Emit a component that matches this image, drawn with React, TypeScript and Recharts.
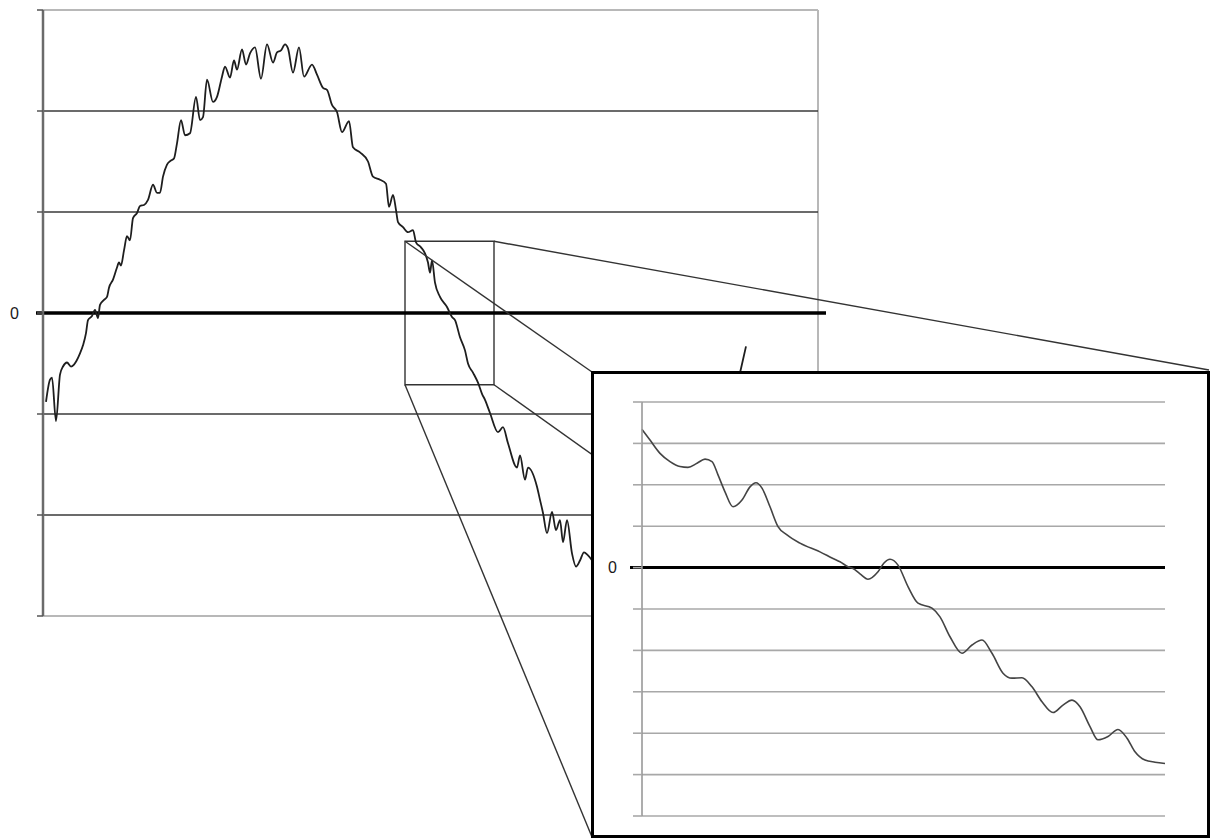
import React from 'react';
import { LineChart, Line, XAxis, YAxis, CartesianGrid, ReferenceLine, ReferenceArea } from 'recharts';

// main series: x = sample position, y = signal value
const mainX = [
  3, 7, 9, 13, 17, 20, 24, 28, 31, 37,
  40, 43, 45, 49, 52, 55, 57, 61, 64, 66,
  70, 74, 76, 78, 81, 84, 87, 90, 94, 97,
  101, 105, 110, 114, 117, 120, 124, 128, 131, 134,
  138, 142, 147, 153, 157, 160, 164, 170, 174, 179,
  182, 187, 191, 194, 199, 203, 207, 212, 218, 224,
  230, 234, 238, 242, 245, 250, 256, 261, 269, 274,
  280, 284, 289, 294, 299, 306, 310, 317, 325, 330,
  337, 343, 346, 350, 353, 355, 360, 365, 370, 373,
  378, 382, 385, 387, 389, 392, 397, 404, 409, 412,
  417, 422, 425, 430, 435, 439, 442, 447, 455, 460,
  465, 474, 477, 482, 485, 494, 497, 500, 504, 509,
  513, 517, 520, 524, 529, 533, 537, 541, 545, 557,
  572, 587, 602, 617, 632, 647, 662, 677, 689, 698,
  703,
];
const mainY = [
  -0.88, -0.66, -0.64, -1.07, -0.61, -0.53, -0.49, -0.53, -0.51, -0.4,
  -0.32, -0.2, -0.07, -0.03, 0.03, -0.05, 0.08, 0.13, 0.16, 0.25,
  0.33, 0.45, 0.5, 0.47, 0.62, 0.76, 0.72, 0.94, 0.99, 1.06,
  1.07, 1.12, 1.27, 1.19, 1.19, 1.35, 1.47, 1.51, 1.53, 1.68,
  1.91, 1.76, 1.78, 2.14, 1.91, 1.94, 2.31, 2.09, 2.14, 2.34,
  2.44, 2.33, 2.5, 2.41, 2.61, 2.46, 2.57, 2.63, 2.32, 2.66,
  2.48, 2.58, 2.6, 2.66, 2.62, 2.38, 2.63, 2.34, 2.46, 2.36,
  2.23, 2.21, 2.06, 1.99, 1.79, 1.9, 1.64, 1.59, 1.5, 1.35,
  1.32, 1.28, 1.05, 1.17, 1.02, 0.9, 0.85, 0.8, 0.82, 0.7,
  0.65, 0.59, 0.5, 0.4, 0.52, 0.3, 0.16, 0.06, -0.04, -0.07,
  -0.24, -0.37, -0.5, -0.59, -0.69, -0.8, -0.86, -0.99, -1.18, -1.13,
  -1.29, -1.53, -1.41, -1.65, -1.53, -1.72, -1.85, -1.98, -2.18, -1.97,
  -2.15, -2.05, -2.27, -2.05, -2.38, -2.51, -2.45, -2.37, -2.4, -2.56,
  -2.66, -2.72, -2.7, -2.62, -2.48, -2.25, -1.85, -1.36, -0.91, -0.55,
  -0.33,
];
const mainTicks = [-3, -2, -1, 0, 1, 2, 3];

// zoomed detail
const insetX = [
  0, 8, 18, 28, 38, 46, 55, 63, 70, 76,
  83, 91, 100, 108, 114, 120, 128, 136, 145, 158,
  178, 191, 198, 206, 211, 218, 226, 236, 242, 248,
  256, 266, 276, 290, 298, 308, 320, 330, 340, 350,
  361, 370, 380, 390, 400, 411, 421, 430, 438, 448,
  456, 466, 476, 485, 493, 503, 513, 523,
];
const insetY = [
  3.34, 3.08, 2.76, 2.56, 2.44, 2.42, 2.52, 2.62, 2.56, 2.24,
  1.83, 1.47, 1.63, 1.95, 2.05, 1.92, 1.47, 0.99, 0.79, 0.59,
  0.38, 0.22, 0.14, 0.02, -0.02, -0.15, -0.28, -0.1, 0.11, 0.2,
  0.06, -0.46, -0.86, -0.98, -1.19, -1.67, -2.07, -1.87, -1.75, -2.07,
  -2.55, -2.67, -2.66, -2.88, -3.24, -3.5, -3.32, -3.2, -3.36, -3.84,
  -4.16, -4.08, -3.91, -4.12, -4.45, -4.65, -4.7, -4.73,
];
const insetTicks = [-6, -5, -4, -3, -2, -1, 0, 1, 2, 3, 4];

// window of the main chart that the inset magnifies
const zoomX = [362, 451];
const zoomY = [-0.71, 0.71];

const mainData = mainX.map((x, i) => ({ x, y: mainY[i] }));
const insetData = insetX.map((x, i) => ({ x, y: insetY[i] }));

// layout
const MAIN_LEFT = 43;
const MAIN_TOP = 10;
const MAIN_W = 775;
const MAIN_H = 606;
const MAIN_XMAX = 775;
const MAIN_YMIN = -3;
const MAIN_YMAX = 3;

const BOX = { left: 591, top: 371, width: 619, height: 467, border: 3 };

const font = '"Liberation Sans", Arial, sans-serif';

const px = (x: number) => MAIN_LEFT + (x / MAIN_XMAX) * MAIN_W;
const py = (y: number) => MAIN_TOP + ((MAIN_YMAX - y) / (MAIN_YMAX - MAIN_YMIN)) * MAIN_H;

function Connectors() {
  const l = px(zoomX[0]);
  const r = px(zoomX[1]);
  const t = py(zoomY[1]);
  const b = py(zoomY[0]);
  const bl = BOX.left + 1;
  const br = BOX.left + BOX.width - 1;
  const bt = BOX.top + 1;
  const bb = BOX.top + BOX.height - 1;
  const lines = [
    [l, t, bl, bt],
    [r, t, br, bt - 2],
    [l, b, bl, bb],
    [r, b, br - 80, bb],
  ];
  return (
    <svg width={1211} height={839} style={{ position: 'absolute', left: 0, top: 0 }}>
      {lines.map((s, i) => (
        <line key={i} x1={s[0]} y1={s[1]} x2={s[2]} y2={s[3]} stroke="#333" strokeWidth={1.4} />
      ))}
    </svg>
  );
}

export default function App() {
  return (
    <div style={{ position: 'absolute', left: 0, top: 0, width: 1211, height: 839, background: '#fff' }}>
      <div style={{ position: 'absolute', left: 0, top: 0 }}>
        <LineChart
          width={840}
          height={630}
          data={mainData}
          margin={{ top: MAIN_TOP, right: 840 - MAIN_LEFT - MAIN_W, bottom: 630 - MAIN_TOP - MAIN_H, left: 0 }}
        >
          <XAxis type="number" dataKey="x" domain={[0, MAIN_XMAX]} hide />
          <YAxis
            type="number"
            domain={[MAIN_YMIN, MAIN_YMAX]}
            ticks={mainTicks}
            interval={0}
            width={MAIN_LEFT}
            axisLine={{ stroke: '#6b6b6b', strokeWidth: 2.5 }}
            tickLine={{ stroke: '#555', strokeWidth: 1.5 }}
            tickSize={6}
            tickMargin={18}
            tick={{ fill: '#1a1a1a', fontSize: 16, fontFamily: font }}
            tickFormatter={(v: number) => (v === 0 ? '0' : '')}
          />
          <ReferenceLine y={MAIN_YMAX} stroke="#b8b8b8" strokeWidth={2} />
          <ReferenceLine y={MAIN_YMIN} stroke="#b8b8b8" strokeWidth={2} />
          <ReferenceLine x={MAIN_XMAX} stroke="#b8b8b8" strokeWidth={2} />
          {[-2, -1, 1, 2].map((v) => (
            <ReferenceLine key={v} y={v} stroke="#3a3a3a" strokeWidth={1.6} />
          ))}
          <ReferenceLine
            segment={[{ x: -7, y: 0 }, { x: MAIN_XMAX + 8, y: 0 }]}
            ifOverflow="visible"
            stroke="#000"
            strokeWidth={3.5}
          />
          <ReferenceArea
            x1={zoomX[0]}
            x2={zoomX[1]}
            y1={zoomY[0]}
            y2={zoomY[1]}
            fill="none"
            fillOpacity={0}
            stroke="#333"
            strokeWidth={1.4}
          />
          <Line
            type="monotone"
            dataKey="y"
            stroke="#1e1e1e"
            strokeWidth={1.8}
            dot={false}
            isAnimationActive={false}
          />
        </LineChart>
      </div>

      <Connectors />

      <div
        style={{
          position: 'absolute',
          left: BOX.left,
          top: BOX.top,
          width: BOX.width,
          height: BOX.height,
          border: `${BOX.border}px solid #000`,
          boxSizing: 'border-box',
          background: '#fff',
        }}
      >
        <LineChart
          width={BOX.width - 2 * BOX.border}
          height={BOX.height - 2 * BOX.border}
          data={insetData}
          margin={{ top: 28, right: BOX.width - 2 * BOX.border - 48 - 523, bottom: 19, left: 0 }}
        >
          <CartesianGrid vertical={false} stroke="#a8a8a8" strokeWidth={1.6} />
          <XAxis type="number" dataKey="x" domain={[0, 523]} hide />
          <YAxis
            type="number"
            domain={[-6, 4]}
            ticks={insetTicks}
            interval={0}
            width={48}
            axisLine={{ stroke: '#999', strokeWidth: 1.6 }}
            tickLine={{ stroke: '#a8a8a8', strokeWidth: 1.6 }}
            tickSize={9}
            tickMargin={16}
            tick={{ fill: '#1a1a1a', fontSize: 16, fontFamily: font }}
            tickFormatter={(v: number) => (v === 0 ? '0' : '')}
          />
          <ReferenceLine
            segment={[{ x: -12, y: 0 }, { x: 523, y: 0 }]}
            ifOverflow="visible"
            stroke="#000"
            strokeWidth={3}
          />
          <Line
            type="monotone"
            dataKey="y"
            stroke="#444"
            strokeWidth={1.6}
            dot={false}
            isAnimationActive={false}
          />
        </LineChart>
      </div>
    </div>
  );
}
